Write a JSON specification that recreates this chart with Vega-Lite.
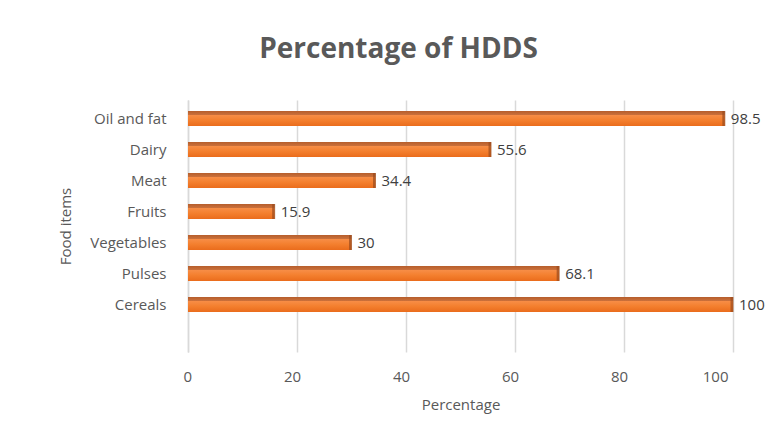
{
  "$schema": "https://vega.github.io/schema/vega-lite/v6.json",
  "autosize": {"type": "none"},
  "padding": {"left": 188, "top": 100, "right": 46, "bottom": 82},
  "width": 545,
  "height": 252,
  "background": "white",
  "title": {
    "text": "Percentage of HDDS",
    "font": "Open Sans",
    "fontSize": 28,
    "fontWeight": "bold",
    "color": "#595959",
    "anchor": "middle",
    "dx": -62,
    "offset": 36
  },
  "data": {
    "values": [
      {"item": "Oil and fat", "pct": 98.5},
      {"item": "Dairy", "pct": 55.6},
      {"item": "Meat", "pct": 34.4},
      {"item": "Fruits", "pct": 15.9},
      {"item": "Vegetables", "pct": 30},
      {"item": "Pulses", "pct": 68.1},
      {"item": "Cereals", "pct": 100}
    ]
  },
  "encoding": {
    "y": {
      "field": "item",
      "type": "nominal",
      "sort": null,
      "scale": {"paddingInner": 0.516, "paddingOuter": 0.8225, "align": 0.216},
      "axis": {
        "title": "Food items",
        "titleFont": "Open Sans",
        "titleFontSize": 15,
        "titleFontWeight": "normal",
        "titleColor": "#595959",
        "titlePadding": 16,
        "labelFont": "Open Sans",
        "labelFontSize": 15,
        "labelColor": "#595959",
        "labelPadding": 22,
        "ticks": false,
        "domain": true,
        "domainColor": "#d9d9d9",
        "domainWidth": 1.5,
        "grid": false
      }
    },
    "x": {
      "field": "pct",
      "type": "quantitative",
      "scale": {"domain": [0, 100], "nice": false},
      "axis": {
        "title": "Percentage",
        "titleFont": "Open Sans",
        "titleFontSize": 15,
        "titleFontWeight": "normal",
        "titleColor": "#595959",
        "titlePadding": 13,
        "labelFont": "Open Sans",
        "labelFontSize": 15,
        "labelColor": "#595959",
        "labelPadding": 17,
        "labelOffset": -5,
        "values": [0, 20, 40, 60, 80, 100],
        "ticks": false,
        "domain": false,
        "grid": true,
        "gridColor": "#d9d9d9",
        "gridWidth": 1.5
      }
    }
  },
  "layer": [
    {
      "mark": {
        "type": "bar",
        "color": {
          "gradient": "linear",
          "x1": 0, "y1": 0, "x2": 0, "y2": 1,
          "stops": [
            {"offset": 0, "color": "#b65e2c"},
            {"offset": 0.24, "color": "#c96f3a"},
            {"offset": 0.28, "color": "#f78d46"},
            {"offset": 0.6, "color": "#f4802f"},
            {"offset": 1, "color": "#ea6c1c"}
          ]
        }
      }
    },
    {
      "mark": {"type": "tick", "orient": "vertical", "color": "#9a4a1c", "thickness": 3, "size": 15, "xOffset": -1}
    },
    {
      "mark": {
        "type": "text",
        "align": "left",
        "baseline": "middle",
        "dx": 6,
        "font": "Open Sans",
        "fontSize": 15,
        "color": "#404040"
      },
      "encoding": {"text": {"field": "pct", "type": "quantitative"}}
    }
  ],
  "config": {"view": {"stroke": null}}
}
